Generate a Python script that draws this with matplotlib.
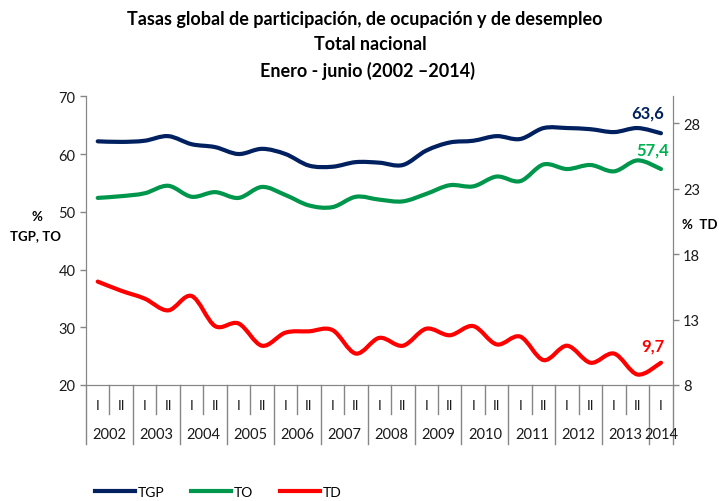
import numpy as np
import matplotlib.pyplot as plt
from matplotlib.path import Path
from matplotlib.patches import PathPatch
from matplotlib.lines import Line2D

plt.rcParams['font.family'] = ['Lato', 'DejaVu Sans']

# datos por semestre (enero-junio = I, julio-diciembre = II)
semestres = ['I', 'II'] * 12 + ['I']
anios = ['2002', '2003', '2004', '2005', '2006', '2007', '2008',
         '2009', '2010', '2011', '2012', '2013', '2014']

tgp = [62.2, 62.1, 62.3, 63.1, 61.7, 61.2, 60.0, 60.9, 60.0, 58.0, 57.8, 58.6,
       58.5, 58.1, 60.6, 62.0, 62.3, 63.1, 62.6, 64.5, 64.5, 64.3, 63.8, 64.5, 63.6]
to = [52.4, 52.7, 53.2, 54.5, 52.6, 53.4, 52.4, 54.3, 52.9, 51.1, 50.8, 52.6,
      52.1, 51.8, 53.1, 54.6, 54.4, 56.1, 55.3, 58.2, 57.4, 58.1, 57.0, 58.9, 57.4]
td = [15.9, 15.2, 14.6, 13.7, 14.8, 12.5, 12.7, 11.0, 12.0, 12.1, 12.2, 10.4,
      11.6, 11.0, 12.3, 11.8, 12.5, 11.1, 11.7, 9.9, 11.0, 9.7, 10.4, 8.8, 9.7]

c_tgp = '#002060'
c_to = '#00964B'
c_td = '#FF0000'
gris = '#868686'


def curva(xs, ys):
    # curva suavizada tipo Excel (Bezier tipo Catmull-Rom)
    n = len(xs)
    verts = [(xs[0], ys[0])]
    codes = [Path.MOVETO]
    for i in range(n - 1):
        i0 = max(i - 1, 0)
        i3 = min(i + 2, n - 1)
        c1 = (xs[i] + (xs[i + 1] - xs[i0]) / 6, ys[i] + (ys[i + 1] - ys[i0]) / 6)
        c2 = (xs[i + 1] - (xs[i3] - xs[i]) / 6, ys[i + 1] - (ys[i3] - ys[i]) / 6)
        verts += [c1, c2, (xs[i + 1], ys[i + 1])]
        codes += [Path.CURVE4] * 3
    return Path(verts, codes)


fig = plt.figure(figsize=(7.19, 5.02), dpi=100)
ax = fig.add_axes([0.1196, 0.2311, 0.8160, 0.5751])
ax2 = ax.twinx()

x = np.arange(len(semestres))
lw = 3

ax.add_patch(PathPatch(curva(x, tgp), fill=False, edgecolor=c_tgp, lw=lw, capstyle='round'))
ax.add_patch(PathPatch(curva(x, to), fill=False, edgecolor=c_to, lw=lw, capstyle='round'))
ax2.add_patch(PathPatch(curva(x, td), fill=False, edgecolor=c_td, lw=lw, capstyle='round'))

ax.set_xlim(-0.5, len(x) - 0.5)
ax.set_ylim(20, 70)
ax2.set_ylim(8, 30.06)
ax.set_yticks(range(20, 71, 10))
ax2.set_yticks(range(8, 29, 5))
ax.set_xticks([])

for a in (ax, ax2):
    for s in a.spines.values():
        s.set_color(gris)
    a.spines['top'].set_visible(False)
    a.tick_params(axis='y', colors=gris, labelcolor='#1a1a1a', labelsize=10.5, length=4, width=1)

# etiquetas del eje x en dos niveles
trans = ax.get_xaxis_transform()
for k in range(len(x) + 1):
    bajo = -0.204 if (k % 2 == 0 or k == len(x)) else -0.1005
    ax.plot([k - 0.5, k - 0.5], [0, bajo], color=gris, lw=1, transform=trans, clip_on=False)
for i, s in enumerate(semestres):
    ax.text(i, -0.069, s, transform=trans, ha='center', va='center', fontsize=10, color='#1a1a1a')
for j, a_ in enumerate(anios):
    xc = 2 * j + 0.5 if j < len(anios) - 1 else 2 * j
    ax.text(xc, -0.170, a_, transform=trans, ha='center', va='center', fontsize=10.5, color='#1a1a1a')

# etiquetas de valor del ultimo dato
fmt = lambda v: f"{v:.1f}".replace('.', ',')
ax.annotate(fmt(tgp[-1]), (x[-1], tgp[-1]), xytext=(-13, 21), textcoords='offset pixels',
            ha='center', va='center', fontsize=12, fontweight='bold', color=c_tgp)
ax.annotate(fmt(to[-1]), (x[-1], to[-1]), xytext=(-8, 20), textcoords='offset pixels',
            ha='center', va='center', fontsize=12, fontweight='bold', color='#00B050')
ax2.annotate(fmt(td[-1]), (x[-1], td[-1]), xytext=(-8, 17), textcoords='offset pixels',
             ha='center', va='center', fontsize=12, fontweight='bold', color=c_td)

# titulos de ejes
fig.text(37 / 719, 1 - 217 / 502, '%', ha='center', va='center',
         fontsize=9.5, fontweight='bold')
fig.text(36 / 719, 1 - 236 / 502, 'TGP, TO', ha='center', va='center',
         fontsize=9.5, fontweight='bold')
fig.text(700 / 719, 1 - 225 / 502, '%  TD', ha='center', va='center',
         fontsize=9.5, fontweight='bold')

fig.text(365 / 719, 1 - 19 / 502, 'Tasas global de participación, de ocupación y de desempleo',
         ha='center', va='center', fontsize=13, fontweight='bold')
fig.text(370 / 719, 1 - 45 / 502, 'Total nacional',
         ha='center', va='center', fontsize=13, fontweight='bold')
fig.text(367 / 719, 1 - 71 / 502, 'Enero - junio (2002 \u20132014)',
         ha='center', va='center', fontsize=13, fontweight='bold')

series = ['TGP', 'TO', 'TD']
handles = [Line2D([], [], color=c, lw=lw) for c in (c_tgp, c_to, c_td)]
fig.legend(handles, series, loc='center left', bbox_to_anchor=(95 / 719, 1 - 493 / 502),
           ncol=3, frameon=False, fontsize=10, handlelength=2.9, handletextpad=0.2,
           columnspacing=1.9, borderpad=0, borderaxespad=0)

fig.savefig('out.png', dpi=100)
